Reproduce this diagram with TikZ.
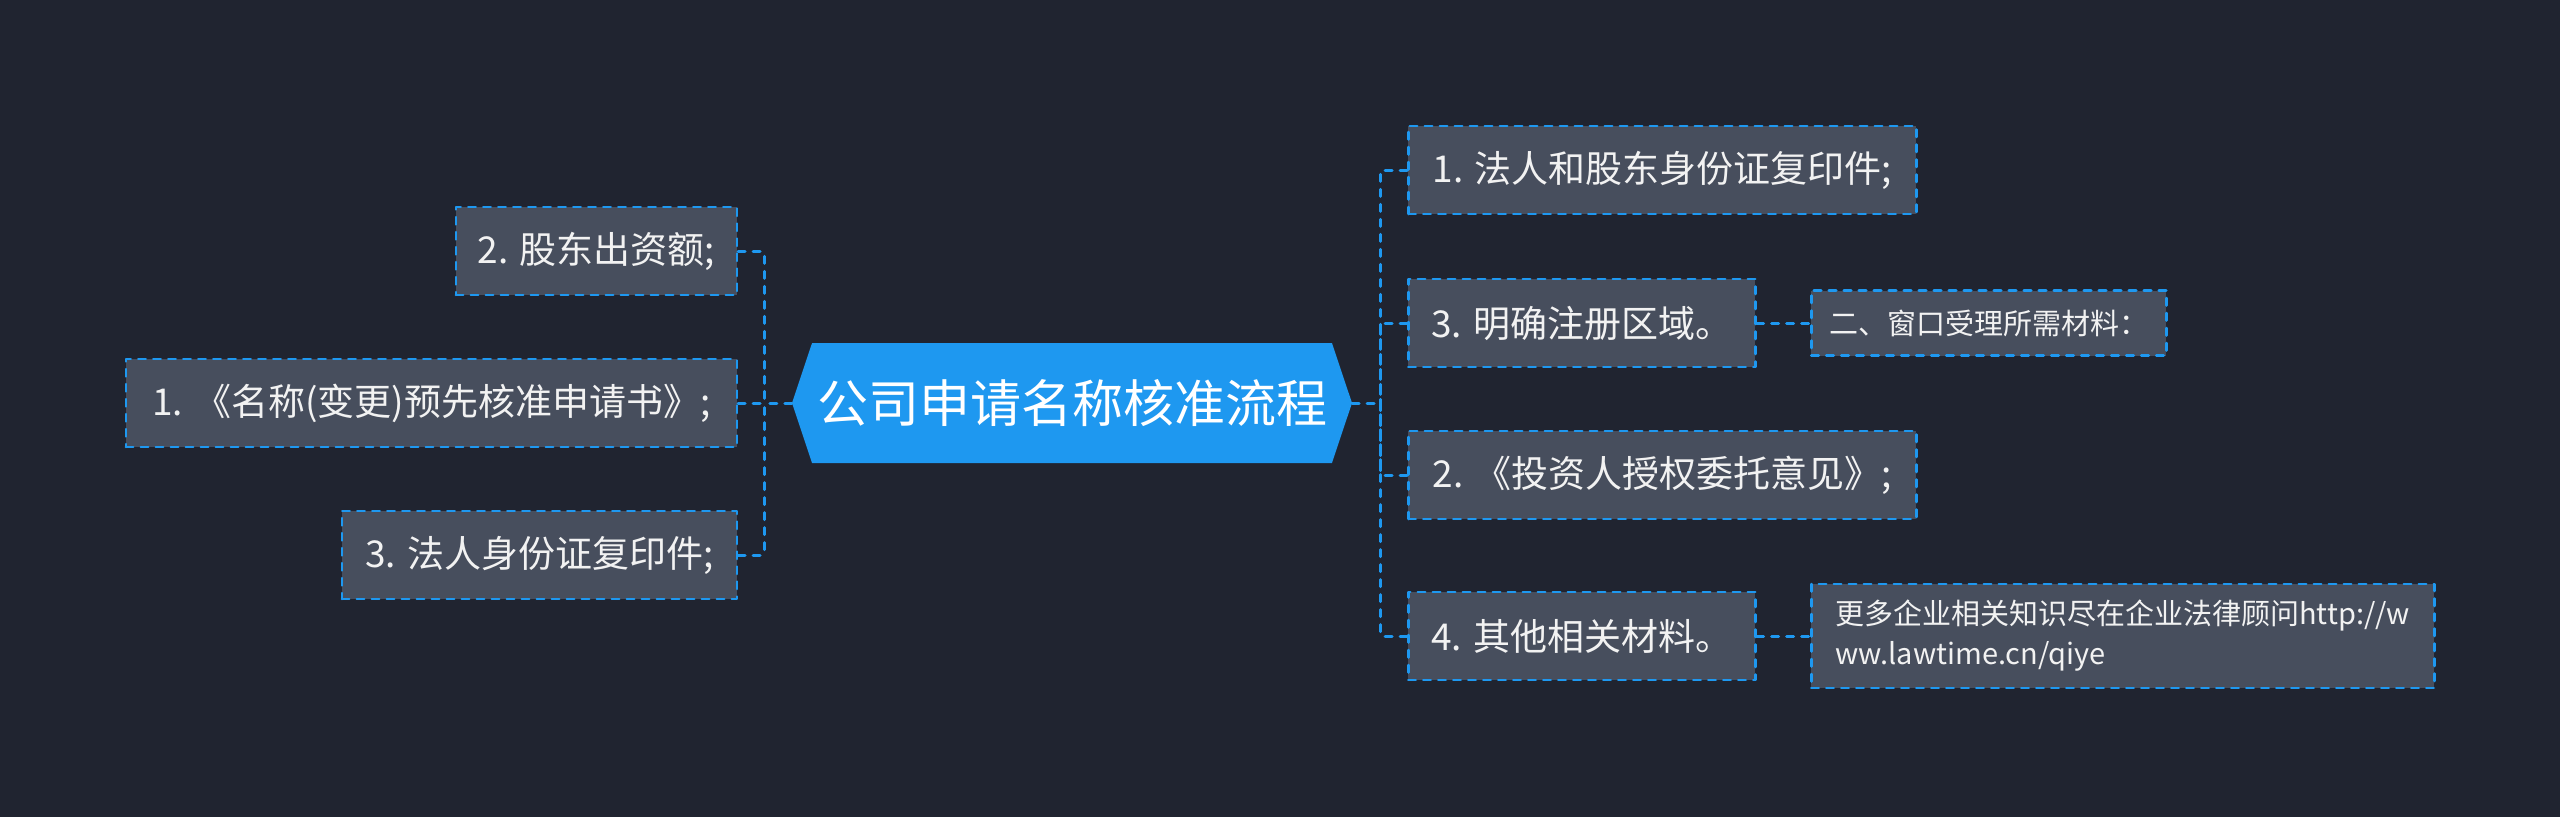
\documentclass[tikz,border=0pt]{standalone}
\usepackage{fontspec}
\setmainfont{Noto Sans CJK SC}
\usetikzlibrary{shapes.symbols}
\definecolor{mapbg}{RGB}{32,36,48}
\definecolor{mapblue}{RGB}{30,152,240}
\definecolor{leafgrey}{RGB}{71,78,93}
\definecolor{leaftext}{RGB}{242,242,242}
\begin{document}
\begin{tikzpicture}[x=1pt,y=-1pt,line cap=round,line join=round,
  rootbox/.style={signal,signal to=west and east,signal pointer angle=143,
    fill=mapblue,text=white,minimum height=120pt,minimum width=560pt,inner sep=0pt,
    font=\fontsize{51}{60}\selectfont},
  leaf/.style={draw=mapblue,fill=leafgrey,line width=2.5pt,dash pattern=on 7.5pt off 7.5pt,
    text=leaftext,minimum height=88pt,inner xsep=14pt,font=\fontsize{37}{44}\selectfont},
  subleaf/.style={leaf,minimum height=65pt,font=\fontsize{29}{40}\selectfont},
  link/.style={draw=mapblue,line width=3pt,dash pattern=on 7pt off 8pt,rounded corners=3pt}]
  \useasboundingbox (0,0) rectangle (2560,817);
  \fill[mapbg] (0,0) rectangle (2560,817);

  \node[rootbox] (root) at (1072,403) {公司申请名称核准流程};

  \node[leaf,anchor=east,minimum width=281pt] (l1) at (738,251) {2. 股东出资额;};
  \node[leaf,anchor=east,minimum width=611pt] (l2) at (738,403) {1. 《名称(变更)预先核准申请书》;};
  \node[leaf,anchor=east,minimum width=395pt] (l3) at (738,555) {3. 法人身份证复印件;};

  \node[leaf,anchor=west,minimum width=508pt] (r1) at (1407,170) {1. 法人和股东身份证复印件;};
  \node[leaf,anchor=west,minimum width=347pt] (r2) at (1407,323) {3. 明确注册区域。};
  \node[leaf,anchor=west,minimum width=508pt] (r3) at (1407,475) {2. 《投资人授权委托意见》;};
  \node[leaf,anchor=west,minimum width=347pt] (r4) at (1407,636) {4. 其他相关材料。};

  \node[subleaf,anchor=west,minimum width=355pt] (r2a) at (1810,323) {二、窗口受理所需材料：};
  \node[subleaf,anchor=west,minimum width=623pt,minimum height=104pt,align=left] (r4a) at (1810,636)
    {更多企业相关知识尽在企业法律顾问http://w\\ww.lawtime.cn/qiye};

  \coordinate (lfork) at (764,403);
  \coordinate (rfork) at (1380,403);

  \draw[link] (root.west) -- (lfork);
  \draw[link] (l1.east) -| (lfork);
  \draw[link] (l2.east) -- (lfork);
  \draw[link] (l3.east) -| (lfork);

  \draw[link] (root.east) -- (rfork);
  \draw[link] (r1.west) -| (rfork);
  \draw[link] (r2.west) -| (rfork);
  \draw[link] (r3.west) -| (rfork);
  \draw[link] (r4.west) -| (rfork);

  \draw[link] (r2.east) -- (r2a.west);
  \draw[link] (r4.east) -- (r4a.west);
\end{tikzpicture}
\end{document}
